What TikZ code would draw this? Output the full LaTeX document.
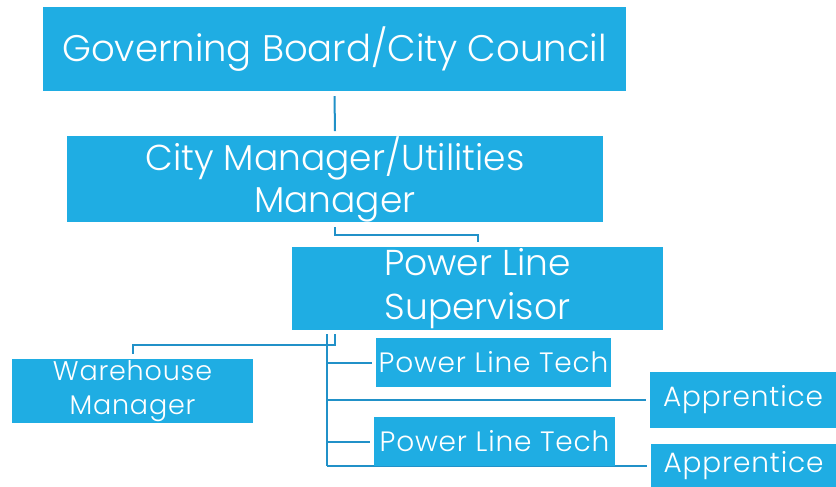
\documentclass[tikz,border=0pt]{standalone}
\usepackage{fontspec}
\setmainfont{Poppins}[UprightFont=* Light]
\usetikzlibrary{positioning}
\pgfdeclarelayer{background layer}
\pgfsetlayers{background layer,main}
\definecolor{boxblue}{RGB}{31,173,227}
\definecolor{lineblue}{RGB}{33,145,200}

\begin{document}
\begin{tikzpicture}[x=1pt,y=-1pt]
\tikzstyle{box}=[fill=boxblue,text=white,inner sep=0pt,align=center]
\tikzstyle{link}=[draw=lineblue,line width=2pt]
\tikzstyle{small}=[font=\fontsize{28}{34}\selectfont\addfontfeature{LetterSpace=3}]
\useasboundingbox (0,0) rectangle (836,487);
\node [box,minimum width=583pt,minimum height=84pt,font=\fontsize{37}{44}\selectfont] at (334.5,49) (board) {Governing Board/City Council};
\node [box,minimum width=536pt,minimum height=82pt,font=\fontsize{36}{42}\selectfont] at (335,179) (manager) {City Manager/Utilities\\Manager};
\node [box,minimum width=371pt,minimum height=83pt,font=\fontsize{36}{44}\selectfont] at (477.5,288.5) (supervisor) {Power Line\\Supervisor};
\node [box,small,minimum width=241pt,minimum height=64pt,font=\fontsize{27}{34}\selectfont\addfontfeature{LetterSpace=3}] at (132.5,391) (warehouse) {Warehouse\\Manager};
\node [box,small,minimum width=235pt,minimum height=49pt] at (493.5,362.5) (tech1) {Power Line Tech};
\node [box,small,minimum width=241pt,minimum height=49pt] at (494.5,441.5) (tech2) {Power Line Tech};
\node [box,small,minimum width=186pt,minimum height=56pt] at (743,400) (apprentice1) {Apprentice};
\node [box,small,minimum width=185pt,minimum height=43pt] at (743.5,465.5) (apprentice2) {Apprentice};
\coordinate (whtop) at (335,334);
\coordinate (trunk) at (327,334);
\draw [link] ([yshift=-5pt]board.south) -- ([yshift=5pt]manager.north);
\draw [link] ([yshift=-5pt]manager.south) -- ++(0,8) -| ([yshift=5pt]supervisor.north);
\draw [link] (whtop) -- ++(0,11) -| ([yshift=5pt]warehouse.north);
\draw [link] (trunk) -- (trunk |- apprentice2.west);
\draw [link] (trunk |- tech1.west) -- ([xshift=-4pt]tech1.west);
\draw [link] (trunk |- apprentice1.west) -- ([xshift=-4pt]apprentice1.west);
\draw [link] (trunk |- tech2.west) -- ([xshift=-4pt]tech2.west);
\begin{pgfonlayer}{background layer}
\draw [link] (trunk |- apprentice2.west) -- ([xshift=-4pt]apprentice2.west);
\end{pgfonlayer}
\end{tikzpicture}
\end{document}
